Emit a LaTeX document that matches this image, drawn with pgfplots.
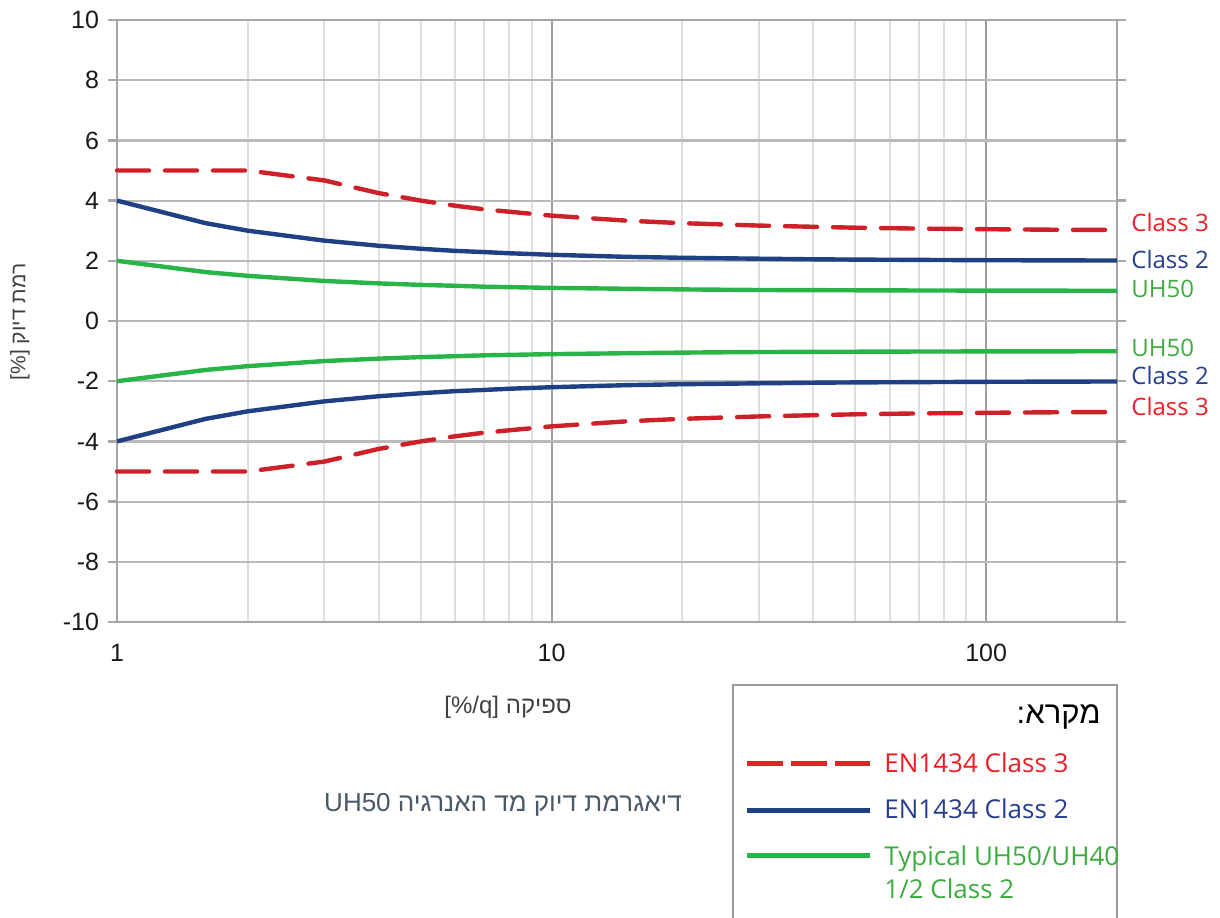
\documentclass[border=0pt]{standalone}
\usepackage{fontspec}
\setmainfont{Liberation Sans}
\newfontfamily\hebfont[Script=Hebrew]{Liberation Sans}
\newfontfamily\osans{Open Sans}
\usepackage{pgfplots}
\pgfplotsset{compat=1.18}
\TeXXeTstate=1
\definecolor{cred}{RGB}{205,32,40}
\definecolor{credt}{RGB}{236,30,36}
\definecolor{cblue}{RGB}{31,64,130}
\definecolor{cbluet}{RGB}{38,62,140}
\definecolor{cgreen}{RGB}{40,180,70}
\definecolor{cgreent}{RGB}{60,172,62}
\definecolor{capcol}{RGB}{74,88,104}

\pgfplotstableread{
x y
1 5
1.6 5
2 5
3 4.67
4 4.25
5 4.0
6 3.83
7 3.71
8 3.63
10 3.5
15 3.33
20 3.25
30 3.17
40 3.13
50 3.1
70 3.07
100 3.05
150 3.03
200 3.025
}\cthreeup
\pgfplotstableread{
x y
1 -5
1.6 -5
2 -5
3 -4.67
4 -4.25
5 -4.0
6 -3.83
7 -3.71
8 -3.63
10 -3.5
15 -3.33
20 -3.25
30 -3.17
40 -3.13
50 -3.1
70 -3.07
100 -3.05
150 -3.03
200 -3.025
}\cthreedn
\pgfplotstableread{
x y
1 4
1.6 3.25
2 3
3 2.67
4 2.5
5 2.4
6 2.33
7 2.29
8 2.25
10 2.2
15 2.13
20 2.1
30 2.07
40 2.05
50 2.04
70 2.03
100 2.02
150 2.013
200 2.01
}\ctwoup
\pgfplotstableread{
x y
1 -4
1.6 -3.25
2 -3
3 -2.67
4 -2.5
5 -2.4
6 -2.33
7 -2.29
8 -2.25
10 -2.2
15 -2.13
20 -2.1
30 -2.07
40 -2.05
50 -2.04
70 -2.03
100 -2.02
150 -2.013
200 -2.01
}\ctwodn
\pgfplotstableread{
x y
1 2
1.6 1.625
2 1.5
3 1.33
4 1.25
5 1.2
6 1.17
7 1.14
8 1.125
10 1.1
15 1.07
20 1.05
30 1.03
40 1.025
50 1.02
70 1.014
100 1.01
150 1.007
200 1.005
}\uhup
\pgfplotstableread{
x y
1 -2
1.6 -1.625
2 -1.5
3 -1.33
4 -1.25
5 -1.2
6 -1.17
7 -1.14
8 -1.125
10 -1.1
15 -1.07
20 -1.05
30 -1.03
40 -1.025
50 -1.02
70 -1.014
100 -1.01
150 -1.007
200 -1.005
}\uhdn

\begin{document}
\begin{tikzpicture}[x=1pt,y=1pt]
\begin{axis}[
  at={(0,0)}, anchor=south west,
  scale only axis, width=500pt, height=301pt,
  xmode=log, xmin=1, xmax=200, ymin=-10, ymax=10,
  ytick={-10,-8,...,10},
  xtick={1,10,100}, xticklabels={1,10,100},
  grid=both,
  major grid style={draw=black!27, line width=1.1pt},
  major x grid style={draw=black!38, line width=1pt},
  minor x grid style={draw=black!13, line width=1pt},
  minor grid style={draw=black!13, line width=1pt},
  axis line style={draw=black!35, line width=1.3pt},
  tick align=outside,
  major tick length=4.5pt,
  ytick style={draw=black!35, line width=1.2pt},
  xtick style={draw=none},
  minor tick style={draw=none},
  tick label style={font=\fontsize{12.5}{14}\selectfont, text=black!90},
  /pgf/number format/assume math mode=true,
  yticklabel style={xshift=-1pt},
  xticklabel style={yshift=-3pt},
  clip=false,
]
\addplot[cred, line width=2.2pt, line cap=round, dash pattern=on 16pt off 8pt] table[x=x,y=y] {\cthreeup};
\addplot[cred, line width=2.2pt, line cap=round, dash pattern=on 16pt off 8pt] table[x=x,y=y] {\cthreedn};
\addplot[cblue, line width=2.2pt] table[x=x,y=y] {\ctwoup};
\addplot[cblue, line width=2.2pt] table[x=x,y=y] {\ctwodn};
\addplot[cgreen, line width=2.2pt] table[x=x,y=y] {\uhup};
\addplot[cgreen, line width=2.2pt] table[x=x,y=y] {\uhdn};

\begin{scope}[every node/.style={anchor=west, inner sep=0pt, xshift=7pt, font=\osans\fontsize{12}{14}\selectfont}]
\node[text=credt] at (axis cs:200,3.27) {Class 3};
\node[text=cbluet] at (axis cs:200,2.05) {Class 2};
\node[text=cgreent] at (axis cs:200,1.05) {UH50};
\node[text=cgreent] at (axis cs:200,-0.91) {UH50};
\node[text=cbluet] at (axis cs:200,-1.80) {Class 2};
\node[text=credt] at (axis cs:200,-2.84) {Class 3};
\end{scope}
\end{axis}

% axis titles
\node[rotate=90, font=\fontsize{10.5}{12}\selectfont, text=black!75] at (-48.5,150) {[\%] {\hebfont\beginR רמת דיוק\endR}};
\node[font=\fontsize{12}{13}\selectfont, text=black!75] at (195.5,-42.5) {[\%/q] {\hebfont\beginR ספיקה\endR}};
\node[font=\fontsize{13}{14}\selectfont, text=capcol] at (193,-91.5) {UH50 {\hebfont\beginR דיאגרמת דיוק מד האנרגיה\endR}};

% legend box
\draw[black!40, line width=1pt] (308,-170) -- (308,-31.5) -- (500,-31.5) -- (500,-170);
\node[anchor=east, inner sep=0pt, font=\hebfont\fontsize{15.5}{18}\selectfont] at (492,-47.5) {\beginR מקרא:\endR};
\draw[credt, line width=2.5pt, dash pattern=on 18pt off 4pt] (315,-70.5) -- (376.5,-70.5);
\draw[cblue, line width=2.5pt] (315,-94) -- (376.5,-94);
\draw[cgreen, line width=2.5pt] (315,-116.5) -- (376.5,-116.5);
\begin{scope}[every node/.style={anchor=base west, inner sep=0pt, font=\osans\fontsize{13}{15}\selectfont}]
\node[text=credt] at (383.5,-75) {EN1434 Class 3};
\node[text=cbluet] at (383.5,-98) {EN1434 Class 2};
\node[text=cgreent] at (383.5,-121.5) {Typical UH50/UH40};
\node[text=cgreent] at (383.5,-138) {1/2 Class 2};
\end{scope}

\pgfresetboundingbox
\path[use as bounding box] (-58.5,-147.5) rectangle (551.5,311);
\end{tikzpicture}
\end{document}
